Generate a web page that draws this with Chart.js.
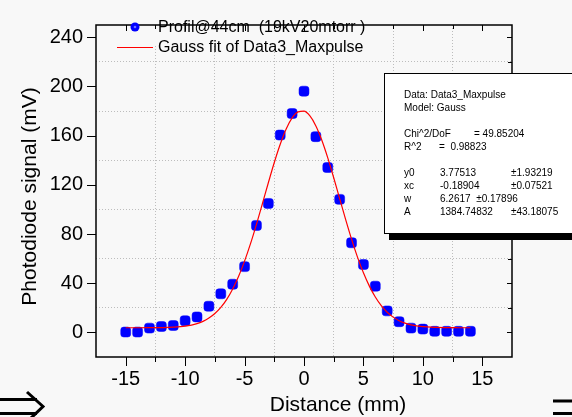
<!DOCTYPE html>
<html>
<head>
<meta charset="utf-8">
<script src="https://cdn.jsdelivr.net/npm/chart.js@4/dist/chart.umd.min.js"></script>
<style>
html,body{margin:0;padding:0;background:#f8f8f8;}
#wrap{width:572px;height:417px;}
</style>
</head>
<body>
<div id="wrap"><canvas id="c" width="572" height="417"></canvas></div>
<script>
// ---- data ----
const distance = [-15,-14,-13,-12,-11,-10,-9,-8,-7,-6,-5,-4,-3,-2,-1,0,1,2,3,4,5,6,7,8,9,10,11,12,13,14];
const signal   = [0.3,0.3,3.5,4.8,5.6,9.5,12.6,21.3,31.4,39.2,53.5,87,104.9,160.5,178,196.2,159.2,134.1,108.2,72.9,55.2,37.6,17.5,8.7,3.5,2.7,0.9,0.9,0.9,0.9];
const fitX = [-15,-14,-13,-12,-11,-10,-9,-8.5,-8,-7.5,-7,-6.5,-6,-5.5,-5,-4.5,-4,-3.5,-3,-2.5,-2,-1.5,-1,-0.5,0,0.5,1,1.5,2,2.5,3,3.5,4,4.5,5,5.5,6,6.5,7,7.5,8,8.5,9,10,11,12,13,14];
const fitY = [3.78,3.79,3.82,3.92,4.23,5.08,7.14,8.98,11.63,15.32,20.33,26.91,35.30,45.63,57.97,72.15,87.89,104.65,121.7,138.15,153.0,165.4,174.4,179.35,179.9,176.0,167.9,156.3,141.96,125.8,108.8,91.9,75.87,61.26,48.46,37.63,28.78,21.78,16.42,12.43,9.55,7.53,6.15,4.66,4.07,3.87,3.80,3.78];
const xTickLabels = [-15,-10,-5,0,5,10,15];
const yTickLabels = [0,40,80,120,160,200,240];
const seriesNames = ["Profil@44cm  (19kV20mtorr )", "Gauss fit of Data3_Maxpulse"];
const xTitle = "Distance (mm)";
const yTitle = "Photodiode signal (mV)";
const fitInfo = [
  ["Data: Data3_Maxpulse"],
  ["Model: Gauss"],
  [],
  ["Chi^2/DoF", "= 49.85204"],
  ["R^2", "=  0.98823"],
  [],
  ["y0", "3.77513", "\u00b11.93219"],
  ["xc", "-0.18904", "\u00b10.07521"],
  ["w", "6.2617  \u00b10.17896"],
  ["A", "1384.74832", "\u00b143.18075"]
];

const FONT = '"Liberation Sans", Arial, sans-serif';
const BG = '#f8f8f8';

const decor = {
  id: 'decor',
  beforeDraw(chart) {
    const ctx = chart.ctx;
    ctx.save();
    ctx.fillStyle = BG;
    ctx.fillRect(0, 0, chart.width, chart.height);
    ctx.restore();
  },
  beforeDatasetsDraw(chart) {
    // legend background hides the grid behind the legend
    const ctx = chart.ctx;
    ctx.save();
    ctx.fillStyle = BG;
    ctx.fillRect(98, 11, 274, 35);
    ctx.restore();
  },
  afterDraw(chart) {
    const ctx = chart.ctx;
    const a = chart.chartArea;
    const xs = chart.scales.x, ys = chart.scales.y;
    ctx.save();
    ctx.setLineDash([]);
    ctx.strokeStyle = '#000';
    // frame
    ctx.lineWidth = 1.5;
    ctx.strokeRect(a.left, a.top, a.right - a.left, a.bottom - a.top);
    // ticks
    ctx.lineWidth = 1;
    ctx.beginPath();
    for (let v = -15; v <= 15.001; v += 2.5) {
      const px = Math.round(xs.getPixelForValue(v)) + 0.5;
      const major = Math.abs(v % 5) < 1e-6;
      ctx.moveTo(px, a.bottom); ctx.lineTo(px, a.bottom + (major ? 9 : 5));
      ctx.moveTo(px, a.top); ctx.lineTo(px, a.top + (major ? 6 : 4));
    }
    for (let v = 0; v <= 240; v += 20) {
      const py = Math.round(ys.getPixelForValue(v)) + 0.5;
      const major = v % 40 === 0;
      if (major) { ctx.moveTo(a.left - 9, py); ctx.lineTo(a.left, py); }
      ctx.moveTo(a.right, py); ctx.lineTo(a.right - (major ? 5 : 4), py);
    }
    ctx.stroke();

    // legend
    ctx.fillStyle = '#0000ff';
    ctx.beginPath(); ctx.arc(135, 27, 4.5, 0, Math.PI * 2); ctx.fill();
    ctx.fillStyle = '#6f6fff';
    ctx.beginPath(); ctx.arc(135, 27, 1.3, 0, Math.PI * 2); ctx.fill();
    ctx.strokeStyle = '#ff0000'; ctx.lineWidth = 1;
    ctx.beginPath(); ctx.moveTo(117, 47.5); ctx.lineTo(153, 47.5); ctx.stroke();
    ctx.fillStyle = '#000';
    ctx.font = '16px ' + FONT;
    ctx.textBaseline = 'middle';
    ctx.textAlign = 'left';
    ctx.fillText(seriesNames[0], 158, 27.5);
    ctx.fillText(seriesNames[1], 158, 47.5);

    // axis titles
    ctx.font = '21px ' + FONT;
    ctx.textAlign = 'center';
    ctx.fillText(xTitle, 338, 405);
    ctx.save();
    ctx.translate(30, 196.5);
    ctx.rotate(-Math.PI / 2);
    ctx.fillText(yTitle, 0, 0);
    ctx.restore();

    // fit info box
    ctx.fillStyle = '#000';
    ctx.fillRect(389, 78, 200, 162);
    ctx.fillStyle = '#fff';
    ctx.fillRect(384, 73, 200, 161);
    ctx.strokeStyle = '#000'; ctx.lineWidth = 1;
    ctx.strokeRect(384.5, 73.5, 200, 160);
    ctx.fillStyle = '#000';
    ctx.font = '10px ' + FONT;
    ctx.textAlign = 'left';
    const cols = [404, 440, 511];
    fitInfo.forEach((row, i) => {
      const y = 95.7 + i * 12.9;
      if (row.length === 2 && i === 3) {
        ctx.fillText(row[0], 404, y); ctx.fillText(row[1], 474, y);
      } else if (row.length === 2 && i === 4) {
        ctx.fillText(row[0], 404, y); ctx.fillText(row[1], 439, y);
      } else {
        row.forEach((t, j) => ctx.fillText(t, cols[j], y));
      }
    });

    // arrow marks at bottom edges
    ctx.strokeStyle = '#000'; ctx.lineWidth = 3;
    ctx.beginPath();
    ctx.moveTo(0, 399.5); ctx.lineTo(37, 399.5);
    ctx.moveTo(0, 413.5); ctx.lineTo(37, 413.5);
    ctx.moveTo(27, 392); ctx.lineTo(43, 406.5); ctx.lineTo(30, 419);
    ctx.moveTo(553, 401); ctx.lineTo(572, 401);
    ctx.moveTo(553, 413.5); ctx.lineTo(572, 413.5);
    ctx.stroke();
    ctx.restore();
  }
};

const gridColor = (major, lo, hi) => (c) => {
  const v = c.tick ? c.tick.value : null;
  if (v === null || v <= lo || v >= hi) return 'rgba(0,0,0,0)';
  return major(v) ? 'rgba(0,0,0,0)' : '#bdbdbd';
};

new Chart(document.getElementById('c'), {
  type: 'scatter',
  data: {
    datasets: [
      {
        label: seriesNames[1],
        type: 'line',
        data: fitX.map((x, i) => ({x, y: fitY[i]})),
        borderColor: '#ff0000',
        borderWidth: 1.2,
        pointRadius: 0,
        cubicInterpolationMode: 'monotone',
        fill: false
      },
      {
        label: seriesNames[0],
        data: distance.map((x, i) => ({x, y: signal[i]})),
        pointStyle: 'rectRounded',
        pointRadius: 5.8,
        backgroundColor: '#0000ff',
        borderColor: '#0000ff',
        borderWidth: 0.5
      }
    ]
  },
  options: {
    responsive: false,
    animation: false,
    devicePixelRatio: 1,
    layout: { padding: { left: 0, right: 60, top: 9, bottom: 0 } },
    plugins: { legend: { display: false }, tooltip: { enabled: false } },
    scales: {
      x: {
        type: 'linear', min: -17.5, max: 17.5,
        afterFit: (s) => { s.height = 60; },
        border: { display: false, dash: [1, 2] },
        grid: {
          drawTicks: false,
          color: gridColor(v => Math.abs(v % 5) < 1e-6, -17.5, 17.5),
          lineWidth: 1
        },
        ticks: {
          stepSize: 2.5, padding: 10, color: '#000', maxRotation: 0, autoSkip: false, includeBounds: false,
          font: { size: 20, family: FONT },
          callback: (v) => xTickLabels.includes(v) ? String(v) : ''
        }
      },
      y: {
        type: 'linear', min: -20, max: 250,
        afterFit: (s) => { s.width = 96; },
        border: { display: false, dash: [1, 2] },
        grid: {
          drawTicks: false,
          color: gridColor(v => v % 40 === 0, -20, 250),
          lineWidth: 1
        },
        ticks: {
          stepSize: 20, padding: 13, color: '#000', autoSkip: false, includeBounds: false,
          font: { size: 20, family: FONT },
          callback: (v) => yTickLabels.includes(v) ? String(v) : ''
        }
      }
    }
  },
  plugins: [decor]
});
</script>
</body>
</html>
